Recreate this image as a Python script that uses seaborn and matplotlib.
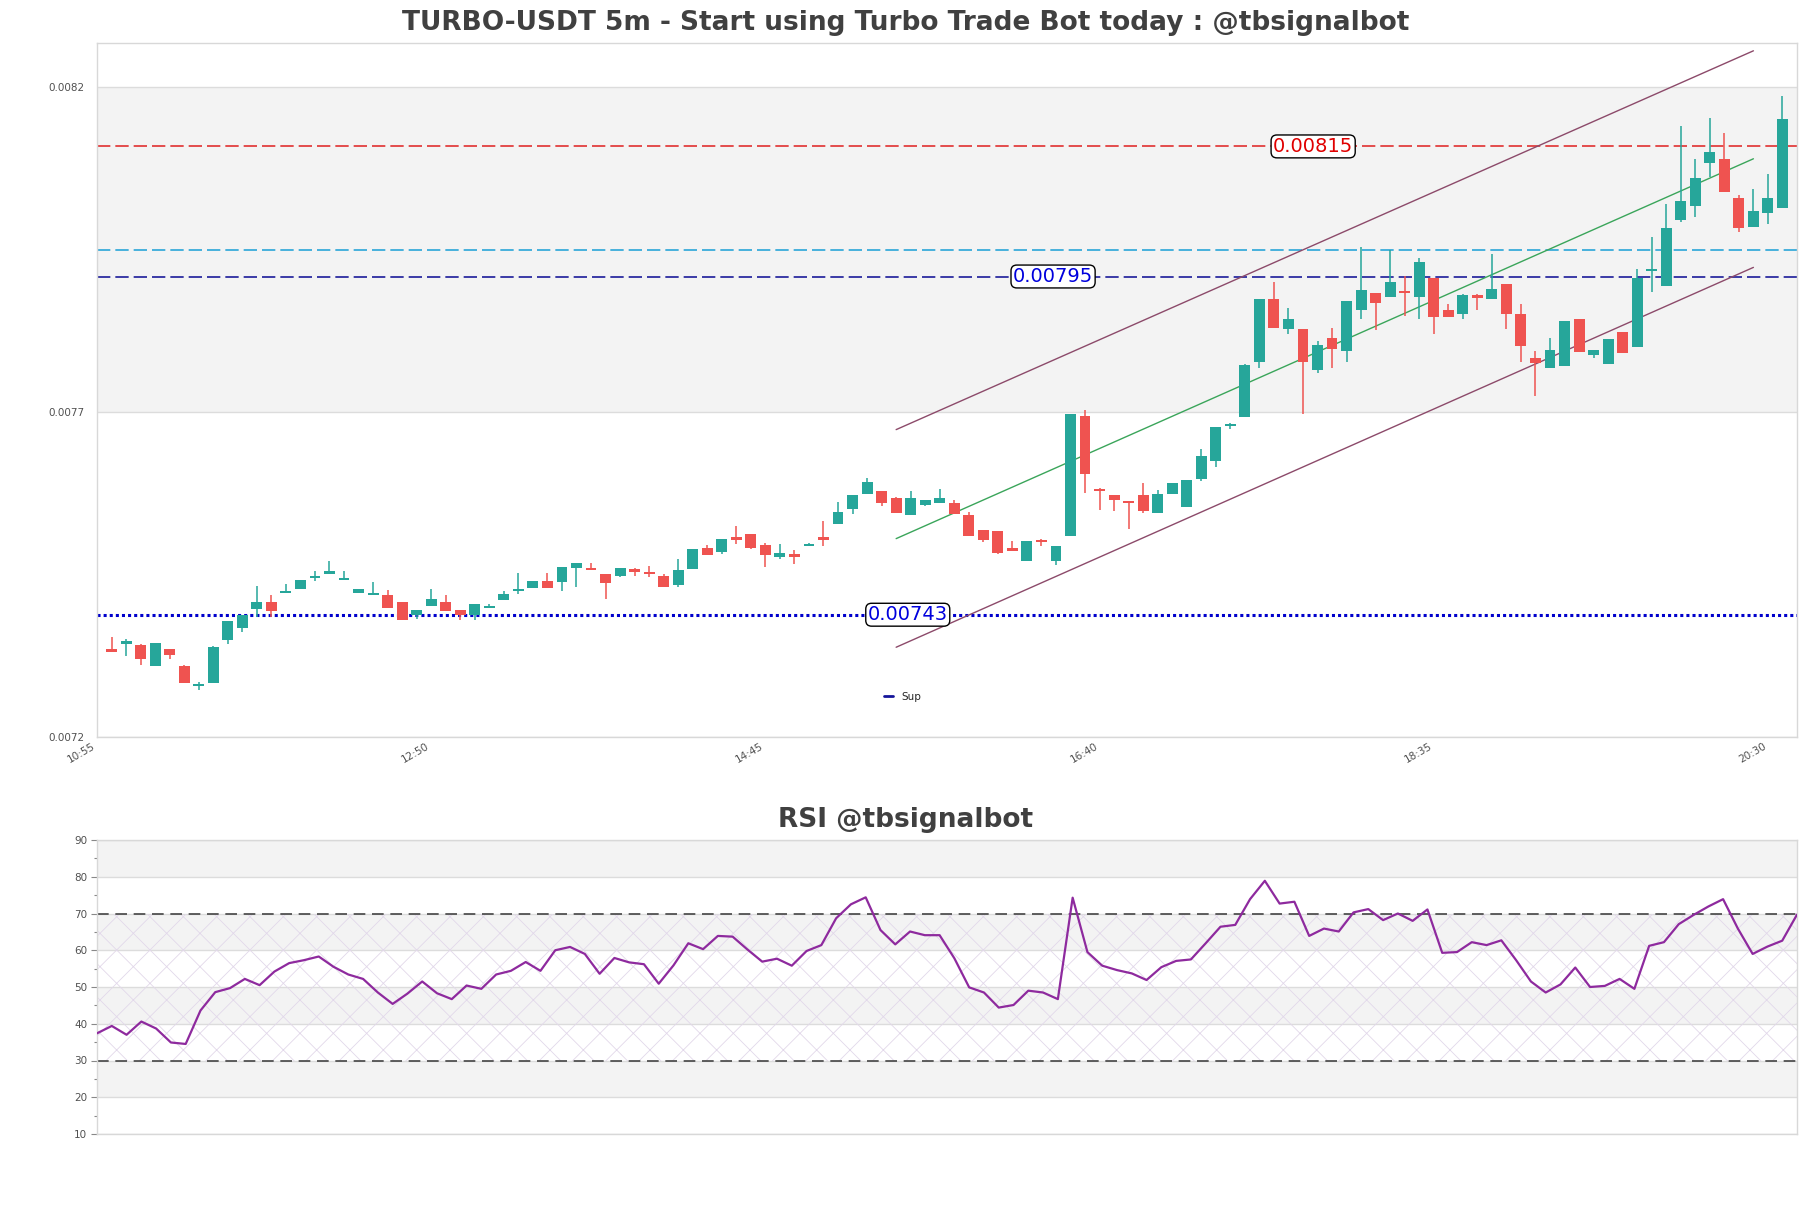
import numpy as np
import pandas as pd
import matplotlib
matplotlib.use("Agg")
import matplotlib.pyplot as plt
from matplotlib.lines import Line2D
from matplotlib.ticker import MultipleLocator
import seaborn as sns

# ---------------- data (prices in units of 1e-5 USDT) ----------------
open_e5 = [737.7, 738.5, 738.4, 735.1, 737.8, 735.1, 732.0, 732.5, 739.1, 741.0,
           743.9, 745.0, 746.4, 747.0, 748.6, 749.3, 748.3, 746.4, 746.0, 746.0,
           745.0, 743.0, 744.4, 744.9, 743.7, 743.0, 744.1, 745.3, 746.7, 747.1,
           748.2, 748.0, 750.2, 750.0, 749.2, 749.0, 750.0, 749.5, 748.9, 747.6,
           750.0, 753.2, 752.6, 755.0, 755.4, 753.7, 751.9, 752.3, 753.6, 754.9,
           757.0, 759.3, 761.6, 762.0, 760.9, 758.3, 759.9, 760.2, 760.1, 758.3,
           756.1, 755.9, 753.3, 751.3, 754.3, 751.3, 755.1, 773.5, 762.3, 761.4,
           760.4, 761.4, 758.6, 761.6, 759.6, 763.8, 766.7, 772.0, 773.4, 781.9,
           791.6, 787.0, 787.0, 780.7, 785.6, 783.6, 789.9, 792.5, 791.8, 792.7,
           791.8, 794.7, 789.8, 789.2, 792.1, 791.6, 793.8, 789.2, 782.4, 781.0,
           781.2, 788.4, 783.0, 781.6, 786.4, 784.1, 795.8, 793.5, 803.7, 805.9,
           812.4, 813.0, 807.0, 802.6, 804.8, 805.6]
high_e5 = [739.6, 739.2, 738.5, 738.7, 737.8, 735.2, 732.7, 738.2, 742.0, 742.9,
           747.4, 746.0, 747.7, 748.4, 749.7, 751.3, 749.7, 747.0, 748.0, 746.8,
           745.0, 743.7, 747.0, 746.0, 743.7, 744.7, 744.6, 746.6, 749.4, 748.2,
           749.4, 750.3, 750.9, 750.9, 749.2, 750.2, 750.2, 750.5, 749.3, 751.5,
           753.1, 753.7, 754.7, 756.6, 755.4, 754.1, 753.9, 753.0, 754.1, 757.4,
           760.4, 761.4, 764.0, 762.0, 761.1, 762.0, 760.7, 762.3, 760.7, 758.8,
           756.1, 755.9, 754.3, 754.4, 754.6, 753.5, 773.8, 774.4, 762.5, 761.4,
           760.4, 763.2, 762.1, 763.2, 763.7, 768.5, 771.8, 772.5, 781.6, 791.5,
           794.1, 790.2, 787.0, 785.1, 787.1, 791.2, 799.6, 792.5, 799.0, 795.1,
           797.8, 794.7, 790.8, 792.3, 792.3, 798.5, 793.8, 790.8, 783.6, 785.5,
           788.1, 788.4, 783.7, 785.4, 786.4, 796.1, 801.0, 806.2, 818.1, 813.0,
           819.4, 817.1, 807.5, 808.5, 810.8, 822.7]
low_e5 = [737.2, 736.7, 735.2, 735.1, 736.2, 732.5, 731.5, 732.5, 738.5, 740.3,
          742.7, 742.7, 746.4, 747.0, 748.2, 749.3, 748.3, 746.3, 746.0, 744.0,
          742.2, 742.3, 744.4, 743.6, 742.2, 742.2, 744.1, 745.3, 746.2, 747.1,
          747.1, 746.7, 747.3, 749.9, 745.4, 748.8, 748.9, 748.8, 747.3, 747.3,
          750.0, 752.2, 752.3, 753.9, 753.1, 750.3, 751.6, 750.8, 753.6, 753.6,
          757.0, 758.5, 761.6, 759.7, 758.6, 758.3, 759.7, 760.2, 758.5, 755.1,
          754.2, 752.4, 752.8, 751.3, 753.6, 750.6, 755.1, 761.7, 759.1, 758.9,
          756.2, 758.6, 758.6, 761.6, 759.6, 763.6, 765.7, 771.6, 773.4, 780.9,
          787.1, 786.1, 773.9, 780.1, 780.9, 781.9, 788.5, 786.8, 791.8, 788.9,
          788.4, 786.1, 788.7, 788.4, 789.9, 791.6, 787.0, 781.9, 776.7, 781.0,
          781.2, 783.4, 782.4, 781.6, 783.3, 784.1, 792.6, 793.5, 803.4, 804.2,
          810.3, 808.0, 801.8, 802.6, 803.0, 805.6]
close_e5 = [737.2, 739.0, 736.2, 738.7, 736.8, 732.5, 732.3, 738.1, 742.0, 742.9,
            744.9, 743.6, 746.6, 748.4, 749.0, 749.7, 748.4, 747.0, 746.4, 744.0,
            742.2, 743.7, 745.4, 743.6, 742.9, 744.7, 744.3, 746.2, 746.9, 748.2,
            747.1, 750.3, 750.9, 749.9, 747.9, 750.2, 749.6, 749.3, 747.3, 749.8,
            753.1, 752.2, 754.7, 754.5, 753.3, 752.2, 752.5, 751.9, 753.8, 754.5,
            758.8, 761.4, 763.4, 760.2, 758.6, 761.0, 760.7, 760.9, 758.5, 755.1,
            754.5, 752.5, 752.8, 754.4, 754.2, 753.5, 773.8, 764.6, 762.0, 760.7,
            760.2, 759.0, 761.6, 763.2, 763.7, 767.4, 771.8, 772.3, 781.4, 791.5,
            787.1, 788.4, 781.9, 784.4, 783.9, 791.2, 793.0, 791.0, 794.1, 792.5,
            797.3, 788.7, 788.7, 792.1, 791.7, 793.1, 789.3, 784.3, 781.7, 783.7,
            788.1, 783.4, 783.7, 785.4, 783.3, 794.7, 796.1, 802.5, 806.6, 810.1,
            814.1, 808.0, 802.4, 805.0, 807.0, 819.2]

rsi_values = [37.4, 39.4, 37.0, 40.6, 38.7, 34.9, 34.5, 43.6, 48.6, 49.7,
              52.2, 50.5, 54.2, 56.5, 57.3, 58.3, 55.5, 53.4, 52.2, 48.5,
              45.4, 48.2, 51.5, 48.3, 46.7, 50.4, 49.5, 53.4, 54.4, 56.8,
              54.4, 60.0, 60.9, 59.0, 53.6, 57.9, 56.7, 56.2, 50.9, 55.9,
              61.9, 60.3, 63.9, 63.7, 60.2, 56.9, 57.7, 55.8, 59.8, 61.4,
              68.7, 72.5, 74.4, 65.5, 61.6, 65.1, 64.1, 64.1, 57.8, 49.9,
              48.5, 44.4, 45.1, 49.0, 48.5, 46.7, 74.3, 59.5, 55.8, 54.6,
              53.7, 51.9, 55.4, 57.1, 57.5, 61.9, 66.4, 66.9, 73.9, 78.9,
              72.7, 73.2, 63.9, 65.9, 65.1, 70.3, 71.2, 68.2, 70.0, 68.0,
              71.1, 59.3, 59.5, 62.2, 61.4, 62.7, 57.3, 51.5, 48.5, 50.7,
              55.3, 50.0, 50.3, 52.2, 49.5, 61.2, 62.2, 67.1, 69.6, 71.9,
              73.9, 65.9, 59.0, 61.0, 62.6, 69.7]

# time axis labels (candle index -1 = 10:55, one candle every 5 minutes)
tick_pos = [-1, 22, 45, 68, 91, 114]
tick_labels = ["10:55", "12:50", "14:45", "16:40", "18:35", "20:30"]

# price axis ticks
price_ticks = [0.007242, 0.007742, 0.008242]
price_tick_labels = ["0.0072", "0.0077", "0.0082"]

# support / resistance levels
resistance = 0.00815
level_mid = 0.00795
level_light = 0.00799
support = 0.00743

# regression channel (candle index, price)
chan_x = [54, 113]
chan_upper = [0.0077146, 0.008297]
chan_mid = [0.007547, 0.008131]
chan_lower = [0.00738, 0.007964]

rsi_ticks = [10, 20, 30, 40, 50, 60, 70, 80, 90]

# ---------------- styling ----------------
sns.set_theme(style="white")
plt.rcParams["font.family"] = ["DejaVu Sans"]
plt.rcParams["hatch.linewidth"] = 0.6

W, H = 1811, 1208
fig = plt.figure(figsize=(W / 100, H / 100), dpi=100)
ax = fig.add_axes([97 / W, 1 - 737 / H, 1700 / W, 694 / H])
ax2 = fig.add_axes([97 / W, 1 - 1134 / H, 1700 / W, 294 / H])

SPINE = "#d8d8d8"
BAND = "#f3f3f3"
GRID = "#dcdcdc"
TXT = "#505050"

df = pd.DataFrame({
    "idx": np.arange(len(open_e5)),
    "open": np.array(open_e5) * 1e-5,
    "high": np.array(high_e5) * 1e-5,
    "low": np.array(low_e5) * 1e-5,
    "close": np.array(close_e5) * 1e-5,
})
up = df["close"] >= df["open"]
cols = np.where(up, "#26a69a", "#ef5350")

# ---- main panel ----
ax.set_xlim(-1, 116)
ax.set_ylim(0.007242, 0.008309)
ax.axhspan(price_ticks[1], price_ticks[2], color=BAND, zorder=0, lw=0)
for t in price_ticks:
    ax.axhline(t, color=GRID, lw=1, zorder=0.5)

ax.vlines(df["idx"], df["low"], df["high"], colors=cols, lw=1.1, zorder=3)
body_bot = np.minimum(df["open"], df["close"])
body_h = np.maximum(np.abs(df["close"] - df["open"]), 0.3e-5)
ax.bar(df["idx"], body_h, bottom=body_bot, width=0.75, color=cols, lw=0, zorder=4)

ax.axhline(resistance, color="#e03030", lw=1.2, dashes=(8, 3), zorder=2)
ax.axhline(level_light, color="#2aa5d8", lw=1.2, dashes=(8, 3), zorder=2)
ax.axhline(level_mid, color="#1b1b9a", lw=1.2, dashes=(8, 3), zorder=2)
ax.axhline(support, color="#0000cc", lw=2.2, dashes=(1, 1), zorder=2)

sns.lineplot(x=chan_x, y=chan_upper, ax=ax, color="#8c4a6a", lw=1, zorder=2.5)
sns.lineplot(x=chan_x, y=chan_lower, ax=ax, color="#8c4a6a", lw=1, zorder=2.5)
sns.lineplot(x=chan_x, y=chan_mid, ax=ax, color="#3aa55a", lw=1, zorder=2.5)

box = dict(boxstyle="round,pad=0.1,rounding_size=0.3", fc="white", ec="black", lw=1)
ax.text(82.7, resistance, f"{resistance:.5f}", color="#e00000", fontsize=14,
        ha="center", va="center", bbox=box, zorder=6)
ax.text(64.8, level_mid, f"{level_mid:.5f}", color="#0000dd", fontsize=14,
        ha="center", va="center", bbox=box, zorder=6)
ax.text(54.8, support, f"{support:.5f}", color="#0000dd", fontsize=14,
        ha="center", va="center", bbox=box, zorder=6)

ax.legend(handles=[Line2D([], [], color="#15159a", lw=2)], labels=["Sup"],
          loc="center", bbox_to_anchor=(0.474, 0.058), frameon=False,
          fontsize=7.5, handlelength=0.9, handletextpad=0.8)

ax.set_yticks(price_ticks)
ax.set_yticklabels(price_tick_labels)
ax.set_xticks(tick_pos)
ax.set_xticklabels(tick_labels, rotation=30, ha="right")
ax.tick_params(axis="both", length=0, labelsize=7.5, labelcolor=TXT, pad=3)
ax.tick_params(axis="y", pad=9)
for s in ax.spines.values():
    s.set_color(SPINE)
    s.set_linewidth(1)

# ---- RSI panel ----
ax2.set_xlim(0, len(rsi_values) - 1)
ax2.set_ylim(10, 90)
for lo in (20, 40, 60, 80):
    ax2.axhspan(lo, lo + 10, color=BAND, zorder=0, lw=0)
ax2.fill_between([0, len(rsi_values) - 1], 30, 70, facecolor="none",
                 hatch="x", edgecolor="#e2d8ea", lw=0, zorder=0.6)
for t in rsi_ticks:
    ax2.axhline(t, color=GRID, lw=1, zorder=0.5)
ax2.axhline(70, color="#444444", lw=1.2, dashes=(7, 4), zorder=2)
ax2.axhline(30, color="#444444", lw=1.2, dashes=(7, 4), zorder=2)

sns.lineplot(x=np.arange(len(rsi_values)), y=rsi_values, ax=ax2,
             color="#8e2a9e", lw=1.6, zorder=3)

ax2.set_yticks(rsi_ticks)
ax2.yaxis.set_minor_locator(MultipleLocator(5))
ax2.set_xticks([])
ax2.tick_params(axis="y", which="major", left=True, length=4, width=0.8,
                color="#888888", labelsize=7.5, labelcolor=TXT, pad=3)
ax2.tick_params(axis="y", which="minor", left=True, length=2.5, width=0.8,
                color="#888888")
for s in ax2.spines.values():
    s.set_color(SPINE)
    s.set_linewidth(1)
ax2.set_xlabel("")
ax2.set_ylabel("")
ax.set_xlabel("")
ax.set_ylabel("")

# ---- titles ----
fig.text(0.5, 1 - 23 / H, "TURBO-USDT 5m - Start using Turbo Trade Bot today : @tbsignalbot",
         ha="center", va="center", fontsize=19, fontweight="bold", color="#404040")
fig.text(0.5, 1 - 820 / H, "RSI @tbsignalbot",
         ha="center", va="center", fontsize=19, fontweight="bold", color="#404040")

fig.savefig("out.png", dpi=100)
